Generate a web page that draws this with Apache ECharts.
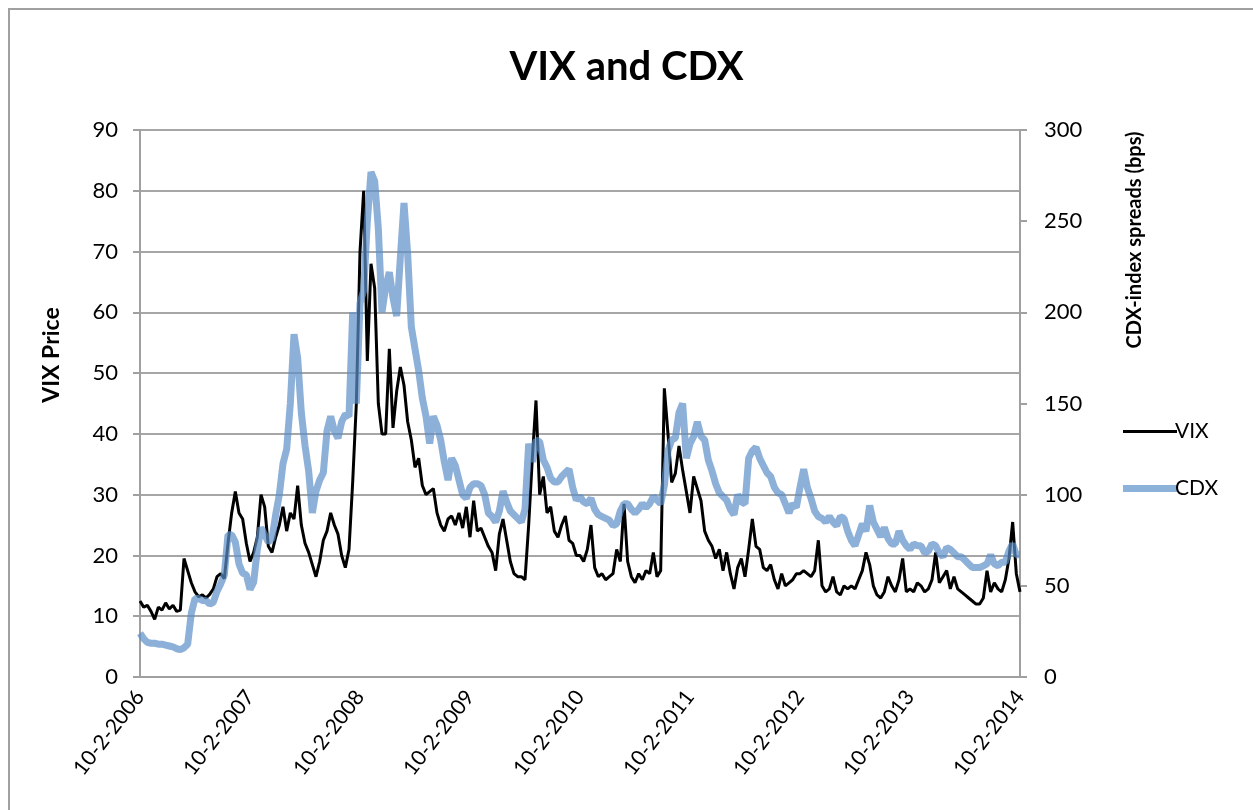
<!DOCTYPE html>
<html>
<head>
<meta charset="utf-8">
<title>VIX and CDX</title>
<script src="https://cdn.jsdelivr.net/npm/echarts@6/dist/echarts.min.js"></script>
<style>
    html, body { margin: 0; padding: 0; background: #fff; }
    #frame {
        position: absolute; left: 8px; top: 8px; width: 1300px; height: 900px;
        border-left: 2px solid #a0a0a0; border-top: 2px solid #a0a0a0;
    }
    #chart { position: absolute; left: 0; top: 0; width: 1253px; height: 810px; }
</style>
</head>
<body>
<div id="frame"></div>
<div id="chart"></div>
<script>
'use strict';

// x axis: years counted from 10-2-2006, 30 samples per year
var startYear = 2006;
var yearCount = 8;
var perYear = 30;

// VIX price, one row per year (left axis)
var vix2006 = [12.5, 11.5, 11.8, 10.8, 9.5, 11.5, 11, 12.2, 11.2, 11.8, 10.8, 11, 19.5, 17.5, 15.5, 14, 13.2, 13.5, 13, 13.6, 14.5, 16.5, 17, 16.2, 22, 27, 30.5, 27, 26, 22];
var vix2007 = [19, 20.5, 23, 30, 28, 21.5, 20.5, 23, 25, 28, 24, 27, 26, 31.5, 25, 22, 20.5, 18.5, 16.5, 19, 22.5, 24, 27, 25, 23.5, 20, 18, 21, 32, 45];
var vix2008 = [70, 80, 52, 68, 64, 45, 40, 40, 54, 41, 47, 51, 48, 42, 39, 34.5, 36, 31.5, 30, 30.5, 31, 27, 25, 24, 26, 26.5, 25, 27, 24.5, 28];
var vix2009 = [23, 29, 24, 24.5, 23, 21.5, 20.5, 17.5, 23.5, 26, 22.5, 19, 17, 16.5, 16.5, 16, 25, 36, 45.5, 30, 33, 27, 28, 24, 23, 25, 26.5, 22.5, 22, 20];
var vix2010 = [20, 19, 21, 25, 18, 16.5, 17, 16, 16.5, 17, 21, 19, 28.5, 19, 16.5, 15.5, 17, 16, 17.5, 17, 20.5, 16.5, 17.5, 47.5, 40, 32, 33.5, 38, 34, 30.5];
var vix2011 = [27, 33, 31, 29, 24, 22.5, 21.5, 19.5, 21, 17.5, 20.5, 17, 14.5, 18, 19.5, 16.5, 21, 26, 21.5, 21, 18, 17.5, 18.5, 16, 14.5, 17, 15, 15.5, 16, 17];
var vix2012 = [17, 17.5, 17, 16.5, 17.5, 22.5, 15, 14, 14.5, 16.5, 14, 13.5, 15, 14.5, 15, 14.5, 16, 17.5, 20.5, 18.5, 15, 13.5, 13, 14, 16.5, 15, 14, 16, 19.5, 14];
var vix2013 = [14.5, 14, 15.5, 15, 14, 14.5, 16, 20.5, 15.5, 16.5, 17.5, 14.5, 16.5, 14.5, 14, 13.5, 13, 12.5, 12, 12, 13, 17.5, 14, 15.5, 14.5, 14, 16, 19.5, 25.5, 17, 14];

// CDX-index spreads in bps, one row per year (right axis)
var cdx2006 = [24, 21, 19, 18.5, 18.5, 18, 18, 17.5, 17, 16.5, 15.5, 15, 16, 18, 35, 43, 43, 42, 42, 40, 41, 47, 51, 56, 78, 78, 74, 62, 57, 56];
var cdx2007 = [48, 52, 70, 82, 78, 74, 76, 89, 100, 117, 125, 150, 188, 175, 145, 127, 113, 90, 102, 108, 112, 135, 143, 135, 131, 140, 144, 143, 200, 150];
var cdx2008 = [205, 212, 250, 277, 272, 246, 200, 214, 222, 208, 198, 230, 260, 232, 192, 180, 168, 153, 143, 128, 143, 138, 130, 118, 108, 120, 116, 108, 100, 98];
var cdx2009 = [104, 106, 106, 105, 100, 90, 88, 85, 91, 102, 96, 91, 89, 87, 85, 92, 128, 118, 130, 129, 119, 115, 109, 107, 107, 110, 112, 114, 104, 97];
var cdx2010 = [99, 96, 95, 98, 92, 89, 88, 87, 86, 83, 84, 91, 95, 95, 92, 90, 92, 95, 93, 95, 99, 97, 95, 105, 124, 130, 131, 145, 150, 120];
var cdx2011 = [128, 132, 140, 132, 130, 119, 113, 106, 101, 99, 97, 92, 89, 100, 96, 95, 120, 124, 126, 120, 116, 112, 110, 104, 101, 100, 95, 90, 95, 93];
var cdx2012 = [104, 114, 104, 98, 91, 88, 87, 85, 88, 85, 83, 88, 87, 80, 75, 72, 78, 84, 80, 94, 85, 81, 77, 82, 76, 73, 73, 80, 75, 72];
var cdx2013 = [70, 73, 72, 72, 68, 69, 73, 72, 68, 66, 71, 70, 68, 66, 66, 64, 62, 60, 60, 60, 61, 62, 67, 62, 61, 63, 63, 69, 73, 67, 67];

var vixValues = [].concat(vix2006, vix2007, vix2008, vix2009, vix2010, vix2011, vix2012, vix2013);
var cdxValues = [].concat(cdx2006, cdx2007, cdx2008, cdx2009, cdx2010, cdx2011, cdx2012, cdx2013);

function toPairs(values) {
    return values.map(function (v, i) { return [i / perYear, v]; });
}

var myChart = echarts.init(document.getElementById('chart'), null, {renderer: 'canvas'});
var font = 'Lato, "Open Sans", sans-serif';

var option = {
    animation: false,
    backgroundColor: 'transparent',
    textStyle: {fontFamily: font, color: '#000'},
    title: {
        text: 'VIX and CDX',
        left: 'center',
        top: 42,
        textStyle: {fontFamily: font, fontSize: 40, fontWeight: 'bold', color: '#000'}
    },
    legend: {
        orient: 'vertical',
        left: 1118,
        top: 416,
        itemWidth: 54,
        itemHeight: 20,
        itemGap: 36,
        textStyle: {fontFamily: font, fontSize: 21, lineHeight: 20, color: '#000', padding: [0, 0, 0, -7]},
        data: [
            {name: 'VIX', icon: 'path://M0,0 L54,0 L54,3 L0,3 Z'},
            {name: 'CDX', icon: 'path://M0,0 L54,0 L54,7 L0,7 Z'}
        ]
    },
    grid: {left: 140, right: 233, top: 130, bottom: 133, containLabel: false},
    xAxis: {
        type: 'value',
        min: 0,
        max: yearCount,
        interval: 1,
        axisLine: {lineStyle: {color: '#a0a0a0', width: 2}},
        axisTick: {show: false},
        splitLine: {show: false},
        axisLabel: {
            rotate: 52,
            margin: 16,
            fontSize: 21,
            color: '#000',
            fontFamily: font,
            showMinLabel: true,
            showMaxLabel: true,
            formatter: function (v) { return '10-2-' + (startYear + v); }
        }
    },
    yAxis: [
        {
            type: 'value',
            min: 0,
            max: 90,
            interval: 10,
            axisLine: {show: true, lineStyle: {color: '#a0a0a0', width: 2}},
            axisTick: {show: true, length: 7, lineStyle: {color: '#a0a0a0', width: 2}},
            splitLine: {lineStyle: {color: '#a6a6a6', width: 2}},
            axisLabel: {fontSize: 22, color: '#000', fontFamily: font, margin: 22}
        },
        {
            type: 'value',
            min: 0,
            max: 300,
            interval: 50,
            position: 'right',
            axisLine: {show: true, lineStyle: {color: '#a0a0a0', width: 2}},
            axisTick: {show: true, length: 7, lineStyle: {color: '#a0a0a0', width: 2}},
            splitLine: {show: false},
            axisLabel: {fontSize: 22, color: '#000', fontFamily: font, margin: 24}
        }
    ],
    graphic: [
        {
            type: 'text',
            x: 52,
            y: 355,
            rotation: Math.PI / 2,
            style: {
                text: 'VIX Price',
                fontFamily: font,
                fontSize: 23,
                fontWeight: 'bold',
                fill: '#000',
                align: 'center',
                verticalAlign: 'middle'
            }
        },
        {
            type: 'text',
            x: 1135,
            y: 240,
            rotation: Math.PI / 2,
            style: {
                text: 'CDX-index spreads (bps)',
                fontFamily: font,
                fontSize: 20,
                fontWeight: 'bold',
                fill: '#000',
                align: 'center',
                verticalAlign: 'middle'
            }
        }
    ],
    series: [
        {
            name: 'VIX',
            type: 'line',
            yAxisIndex: 0,
            symbol: 'none',
            color: '#000',
            lineStyle: {color: '#000', width: 3},
            data: toPairs(vixValues)
        },
        {
            name: 'CDX',
            type: 'line',
            yAxisIndex: 1,
            symbol: 'none',
            color: '#8cb2da',
            lineStyle: {color: 'rgba(91,143,200,0.7)', width: 7},
            data: toPairs(cdxValues)
        }
    ]
};

myChart.setOption(option);
window.onresize = function () {
    myChart.resize();
};
</script>
</body>
</html>
